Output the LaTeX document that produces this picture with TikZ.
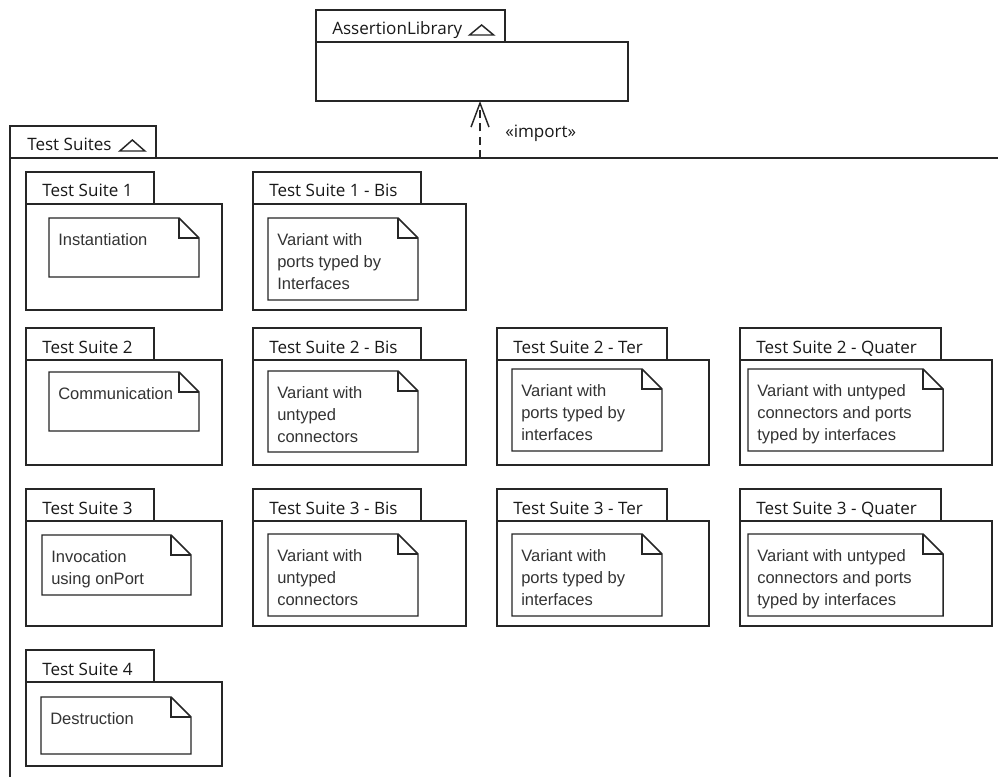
\documentclass[tikz,border=0pt]{standalone}
\usepackage{fontspec}
\setmainfont{Open Sans}
\newfontfamily\notefont{Liberation Sans}
\usetikzlibrary{
    arrows.meta,
    calc,
    positioning
}
\tikzset{
    pkgline/.style={draw=black!85, line width=1.1pt},
    pkgtitle/.style={anchor=base west, inner sep=0pt, text=black!90, font=\fontsize{12.8pt}{15pt}\selectfont},
    notetext/.style={anchor=north west, inner sep=0pt, align=left, text=black!80, font=\notefont\fontsize{12.4pt}{16.5pt}\selectfont},
    importarrow/.style={pkgline, dash pattern=on 6pt off 4pt, -{Straight Barb[length=18pt, width=13.5pt]}}
}
\newcommand{\suitepkg}[7]{%
    \draw[pkgline] (#2, #3) rectangle (#4, #3+32);
    \draw[pkgline] (#2, #3+32) rectangle (#5, #6);
    \coordinate (#1 corner) at (#5, #6);
    \node[pkgtitle] (#1) at (#2+16, #3+25) {#7};
}
\newcommand{\suitenote}[6]{%
    \draw[pkgline] (#2, #3) -- (#4-20, #3) -- (#4, #3+20) -- (#4, #5) -- (#2, #5) -- cycle;
    \draw[pkgline] (#4-20, #3) -- (#4-20, #3+20) -- (#4, #3+20);
    \node[notetext] (#1) at (#2+9, #3+15) {#6};
}

\begin{document}
\begin{tikzpicture}[x=0.75pt, y=-0.75pt]
    \useasboundingbox[fill=white] (0, 0) rectangle (998, 777);

    \suitepkg{alib}{316}{10}{505}{628}{101}{AssertionLibrary}
    \draw[pkgline] ($(alib.base east)+(7, 0)$) -- ++(24, 0) -- ++(-12, -10) -- cycle;

    \draw[pkgline] (10, 126) rectangle (156, 158);
    \draw[pkgline] (998, 158) -- (10, 158) -- (10, 777);
    \node[pkgtitle] (suites) at (27, 151) {Test Suites};
    \draw[pkgline] ($(suites.base east)+(8, 0)$) -- ++(25, 0) -- ++(-12.5, -11) -- cycle;

    \coordinate (imp) at (480, 158);
    \draw[importarrow] (imp) -- (imp |- alib corner);
    \node[pkgtitle, anchor=west] (implabel) at (505, 133) {«import»};

    \suitepkg{ts1}{26}{172}{154}{222}{310}{Test Suite 1}
    \suitenote{n1}{49}{218}{199}{277}{Instantiation}
    \suitepkg{ts1b}{253}{172}{421}{466}{310}{Test Suite 1 - Bis}
    \suitenote{n1b}{268}{218}{418}{300}{Variant with\\ports typed by\\Interfaces}

    \suitepkg{ts2}{26}{328}{154}{222}{465}{Test Suite 2}
    \suitenote{n2}{49}{372}{199}{431}{Communication}
    \suitepkg{ts2b}{253}{328}{421}{466}{465}{Test Suite 2 - Bis}
    \suitenote{n2b}{268}{371}{418}{452}{Variant with\\untyped\\connectors}
    \suitepkg{ts2t}{497}{328}{667}{709}{465}{Test Suite 2 - Ter}
    \suitenote{n2t}{512}{369}{662}{451}{Variant with\\ports typed by\\interfaces}
    \suitepkg{ts2q}{740}{328}{941}{992}{465}{Test Suite 2 - Quater}
    \suitenote{n2q}{748}{369}{943}{451}{Variant with untyped\\connectors and ports\\typed by interfaces}

    \suitepkg{ts3}{26}{489}{154}{222}{626}{Test Suite 3}
    \suitenote{n3}{42}{535}{191}{595}{Invocation\\using onPort}
    \suitepkg{ts3b}{253}{489}{421}{466}{626}{Test Suite 3 - Bis}
    \suitenote{n3b}{268}{534}{418}{616}{Variant with\\untyped\\connectors}
    \suitepkg{ts3t}{497}{489}{667}{709}{626}{Test Suite 3 - Ter}
    \suitenote{n3t}{512}{534}{662}{616}{Variant with\\ports typed by\\interfaces}
    \suitepkg{ts3q}{740}{489}{941}{992}{626}{Test Suite 3 - Quater}
    \suitenote{n3q}{748}{534}{943}{616}{Variant with untyped\\connectors and ports\\typed by interfaces}

    \suitepkg{ts4}{26}{650}{154}{222}{766}{Test Suite 4}
    \suitenote{n4}{41}{697}{191}{754}{Destruction}
\end{tikzpicture}
\end{document}
